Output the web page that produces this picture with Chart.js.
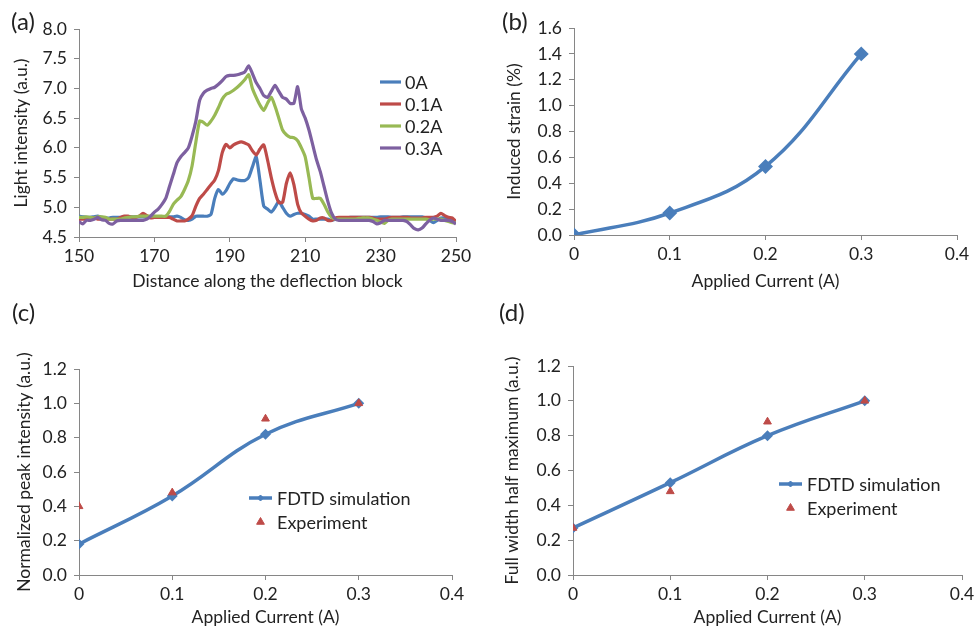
<!DOCTYPE html>
<html>
<head>
<meta charset="utf-8">
<script src="https://cdn.jsdelivr.net/npm/chart.js@4.4.0/dist/chart.umd.min.js"></script>
<style>
  body { margin: 0; background: #fff; width: 976px; height: 628px; position: relative; overflow: hidden; font-family: Lato, sans-serif; }
  .panel { position: absolute; }
  .tag { position: absolute; font-size: 24px; line-height: 28px; color: #222; font-family: Lato, sans-serif; }
</style>
</head>
<body>
<div class="panel" style="left:0;top:0"><canvas id="chart-a" width="480" height="300"></canvas></div>
<div class="panel" style="left:480px;top:0"><canvas id="chart-b" width="496" height="300"></canvas></div>
<div class="panel" style="left:0;top:300px"><canvas id="chart-c" width="480" height="328"></canvas></div>
<div class="panel" style="left:480px;top:300px"><canvas id="chart-d" width="496" height="328"></canvas></div>
<div class="tag" style="left:11px;top:7px">(a)</div>
<div class="tag" style="left:502px;top:7px">(b)</div>
<div class="tag" style="left:12px;top:298px">(c)</div>
<div class="tag" style="left:499px;top:298px">(d)</div>
<script>
// (a) 광 강도 프로파일
const distance = [150,151,152,153,154,155,156,157,158,159,160,161,162,163,164,165,166,167,168,169,
  170,171,172,173,174,175,176,177,178,179,180,181,182,183,184,185,186,187,188,189,
  190,191,192,193,194,195,196,197,198,199,200,201,202,203,204,205,206,207,208,209,
  210,211,212,213,214,215,216,217,218,219,220,221,222,223,224,225,226,227,228,229,
  230,231,232,233,234,235,236,237,238,239,240,241,242,243,244,245,246,247,248,249,250];
const profileLabels = ['0A', '0.1A', '0.2A', '0.3A'];
const intensity0A = [4.85,4.84,4.83,4.83,4.84,4.85,4.83,4.82,4.82,4.83,
  4.83,4.83,4.84,4.84,4.84,4.84,4.84,4.84,4.84,4.84,
  4.84,4.84,4.84,4.84,4.84,4.84,4.85,4.83,4.79,4.78,
  4.80,4.85,4.85,4.85,4.85,4.88,5.15,5.30,5.22,5.28,
  5.40,5.48,5.46,5.45,5.45,5.50,5.68,5.85,5.45,5.02,
  4.97,4.92,5.00,5.10,5.00,4.90,4.85,4.88,4.90,4.90,
  4.88,4.85,4.80,4.80,4.80,4.80,4.80,4.78,4.80,4.80,
  4.82,4.82,4.83,4.83,4.83,4.83,4.83,4.83,4.83,4.83,
  4.84,4.84,4.84,4.83,4.83,4.83,4.84,4.84,4.84,4.84,
  4.84,4.84,4.82,4.78,4.74,4.78,4.82,4.82,4.80,4.78,4.76];
const intensity01A = [4.80,4.80,4.80,4.82,4.82,4.80,4.80,4.80,4.80,4.80,
  4.80,4.83,4.85,4.85,4.83,4.83,4.85,4.90,4.86,4.82,
  4.83,4.83,4.83,4.83,4.83,4.80,4.77,4.77,4.77,4.80,
  4.86,5.02,5.15,5.22,5.30,5.38,5.46,5.62,5.92,6.06,
  6.00,6.05,6.08,6.10,6.08,6.05,5.95,5.88,5.98,6.05,
  5.80,5.50,5.25,5.08,5.08,5.40,5.58,5.38,5.05,4.90,
  4.85,4.80,4.77,4.78,4.82,4.82,4.78,4.78,4.82,4.83,
  4.83,4.83,4.83,4.83,4.83,4.83,4.83,4.83,4.82,4.80,
  4.80,4.80,4.82,4.83,4.83,4.83,4.83,4.83,4.82,4.82,
  4.82,4.82,4.83,4.83,4.83,4.85,4.90,4.86,4.83,4.82,4.76];
const intensity02A = [4.83,4.83,4.84,4.83,4.82,4.84,4.84,4.83,4.80,4.80,
  4.80,4.80,4.82,4.83,4.84,4.84,4.85,4.85,4.85,4.85,
  4.85,4.85,4.85,4.85,4.93,5.05,5.12,5.18,5.30,5.45,
  5.70,6.10,6.45,6.43,6.38,6.45,6.55,6.68,6.82,6.90,
  6.93,6.97,7.02,7.08,7.15,7.23,7.00,6.85,6.72,6.63,
  6.75,6.85,6.70,6.50,6.30,6.22,6.18,6.17,6.12,6.00,
  5.85,5.50,5.15,5.15,5.15,5.05,4.92,4.83,4.80,4.80,
  4.80,4.80,4.80,4.80,4.81,4.82,4.82,4.82,4.80,4.78,
  4.75,4.73,4.78,4.80,4.80,4.80,4.80,4.80,4.80,4.80,
  4.80,4.80,4.80,4.79,4.80,4.80,4.80,4.78,4.76,4.74,4.74];
const intensity03A = [4.76,4.72,4.78,4.78,4.80,4.83,4.79,4.78,4.73,4.72,
  4.77,4.78,4.78,4.78,4.78,4.78,4.78,4.78,4.80,4.85,
  4.92,4.97,5.05,5.15,5.35,5.55,5.75,5.85,5.92,6.00,
  6.20,6.45,6.80,6.92,6.97,7.00,7.02,7.07,7.13,7.20,
  7.22,7.22,7.23,7.25,7.28,7.38,7.25,7.10,7.00,6.88,
  6.85,6.95,7.05,6.95,6.85,6.82,6.75,6.75,7.03,6.65,
  6.50,6.30,6.05,5.80,5.60,5.35,5.10,4.90,4.80,4.78,
  4.78,4.78,4.78,4.78,4.78,4.78,4.78,4.78,4.76,4.72,
  4.74,4.78,4.78,4.78,4.78,4.78,4.78,4.76,4.70,4.64,
  4.62,4.65,4.72,4.78,4.82,4.80,4.78,4.78,4.78,4.76,4.72];

// (b)-(d) 전류 대비 결과
const current = [0, 0.1, 0.2, 0.3];
const strain = [0, 0.17, 0.53, 1.40];
const peakSim = [0.18, 0.46, 0.82, 1.00];
const peakExp = [0.40, 0.48, 0.91, 1.00];
const fwhmSim = [0.27, 0.53, 0.80, 1.00];
const fwhmExp = [0.27, 0.48, 0.88, 1.00];

const BLUE = '#4A7EBB', RED = '#BE4B48', GREEN = '#98B954', PURPLE = '#7D60A0';
const AXIS = '#868686', TEXT = '#222';
const FONT = 'Lato, sans-serif';
const TICK_SIZE = 17.5, TITLE_SIZE = 17.5;

Chart.defaults.font.family = FONT;
Chart.defaults.color = TEXT;
Chart.defaults.animation = false;

function pairs(xs, ys) {
    return ys.map((y, i) => ({ x: xs[i], y: y }));
}

// 플롯 안쪽 범례를 직접 그림
const boxLegend = {
    id: 'boxLegend',
    afterDraw(chart, args, opts) {
        if (!opts || !opts.items) return;
        const ctx = chart.ctx;
        ctx.save();
        ctx.font = opts.fontSize + 'px ' + FONT;
        ctx.textBaseline = 'middle';
        chart.data.datasets.forEach((ds, i) => {
            const y = opts.y + i * opts.gap;
            const x0 = opts.x, x1 = opts.x + opts.lineLen;
            if (ds.showLine !== false) {
                ctx.strokeStyle = ds.borderColor;
                ctx.lineWidth = ds.borderWidth;
                ctx.beginPath();
                ctx.moveTo(x0, y);
                ctx.lineTo(x1, y);
                ctx.stroke();
            }
            if (ds.pointRadius > 0) {
                ctx.fillStyle = ds.pointBackgroundColor || ds.borderColor;
                ctx.strokeStyle = ds.pointBorderColor || ds.borderColor;
                ctx.lineWidth = 1;
                Chart.helpers.drawPoint(ctx, { pointStyle: ds.pointStyle, radius: ds.pointRadius, borderWidth: 1 }, (x0 + x1) / 2, y);
            }
            ctx.fillStyle = TEXT;
            ctx.fillText(ds.label, x1 + opts.textGap, y + 1);
        });
        ctx.restore();
    }
};

function xScale(min, max, step, height, title, titlePad) {
    return {
        type: 'linear', min: min, max: max,
        ticks: { stepSize: step, padding: 4, font: { size: TICK_SIZE }, color: TEXT,
                 callback: v => String(Math.round(v * 10) / 10) },
        grid: { drawOnChartArea: false, tickLength: 5, color: AXIS },
        border: { color: AXIS },
        title: { display: true, text: title, font: { size: TITLE_SIZE }, color: TEXT, padding: { top: 0, bottom: titlePad } },
        afterFit(s) { s.height = height; s.paddingLeft = 0; s.paddingRight = 0; }
    };
}

function yScale(min, max, step, width, title, titlePad) {
    return {
        min: min, max: max,
        ticks: { stepSize: step, padding: 7, font: { size: TICK_SIZE }, color: TEXT,
                 callback: v => v.toFixed(1) },
        grid: { drawOnChartArea: false, tickLength: 5, color: AXIS },
        border: { color: AXIS },
        title: { display: true, text: title, font: { size: TITLE_SIZE }, color: TEXT, padding: { top: titlePad, bottom: 0 } },
        afterFit(s) { s.width = width; s.paddingTop = 0; s.paddingBottom = 0; }
    };
}

function initCharts() {
    const profiles = [intensity0A, intensity01A, intensity02A, intensity03A];
    const colors = [BLUE, RED, GREEN, PURPLE];

    new Chart(document.getElementById('chart-a'), {
        type: 'line',
        data: {
            datasets: profiles.map((p, i) => ({
                label: profileLabels[i],
                data: pairs(distance, p),
                borderColor: colors[i],
                borderWidth: 3.2,
                pointRadius: 0,
                tension: 0.2,
                order: 3 - i
            }))
        },
        options: {
            responsive: false,
            layout: { padding: { left: 0, right: 24, top: 29, bottom: 0 } },
            plugins: { legend: { display: false }, tooltip: { enabled: false },
                       boxLegend: { items: true, x: 380, y: 82, gap: 22, lineLen: 21, textGap: 4, fontSize: 18 } },
            scales: {
                x: xScale(150, 250, 20, 63, 'Distance along the deflection block', 8),
                y: yScale(4.5, 8, 0.5, 79, 'Light intensity (a.u.)', 11)
            }
        },
        plugins: [boxLegend]
    });

    new Chart(document.getElementById('chart-b'), {
        type: 'line',
        data: {
            datasets: [{
                label: 'Induced strain',
                data: pairs(current, strain),
                borderColor: BLUE,
                backgroundColor: BLUE,
                borderWidth: 3.5,
                pointStyle: 'rectRot',
                pointRadius: 5,
                tension: 0.4
            }]
        },
        options: {
            responsive: false,
            layout: { padding: { left: 0, right: 19, top: 28, bottom: 0 } },
            plugins: { legend: { display: false }, tooltip: { enabled: false } },
            scales: {
                x: xScale(0, 0.4, 0.1, 65, 'Applied Current (A)', 8),
                y: yScale(0, 1.6, 0.2, 94, 'Induced strain (%)', 24)
            }
        }
    });

    function compareChart(id, sim, exp, yTitle, yWidth, right, top, yTitlePad, legendPos) {
        return new Chart(document.getElementById(id), {
            type: 'line',
            data: {
                datasets: [{
                    label: 'FDTD simulation',
                    data: pairs(current, sim),
                    borderColor: BLUE,
                    backgroundColor: BLUE,
                    borderWidth: 3.5,
                    pointStyle: 'rectRot',
                    pointRadius: 3,
                    tension: 0.4,
                    order: 1
                }, {
                    label: 'Experiment',
                    data: pairs(current, exp),
                    showLine: false,
                    borderColor: RED,
                    backgroundColor: RED,
                    pointBackgroundColor: RED,
                    pointStyle: 'triangle',
                    pointRadius: 4.5,
                    order: 0
                }]
            },
            options: {
                responsive: false,
                layout: { padding: { left: 0, right: right, top: top, bottom: 0 } },
                plugins: { legend: { display: false }, tooltip: { enabled: false },
                           boxLegend: Object.assign({ items: true, gap: 24, lineLen: 23, textGap: 5, fontSize: 18 }, legendPos) },
                scales: {
                    x: xScale(0, 0.4, 0.1, 53, 'Applied Current (A)', 0),
                    y: yScale(0, 1.2, 0.2, yWidth, yTitle, yTitlePad)
                }
            },
            plugins: [boxLegend]
        });
    }

    compareChart('chart-c', peakSim, peakExp, 'Normalized peak intensity (a.u.)', 79, 28, 69, 14, { x: 249, y: 198 });
    compareChart('chart-d', fwhmSim, fwhmExp, 'Full width half maximum (a.u.)', 93, 14, 66, 22, { x: 299, y: 184 });
}

initCharts();
</script>
</body>
</html>
